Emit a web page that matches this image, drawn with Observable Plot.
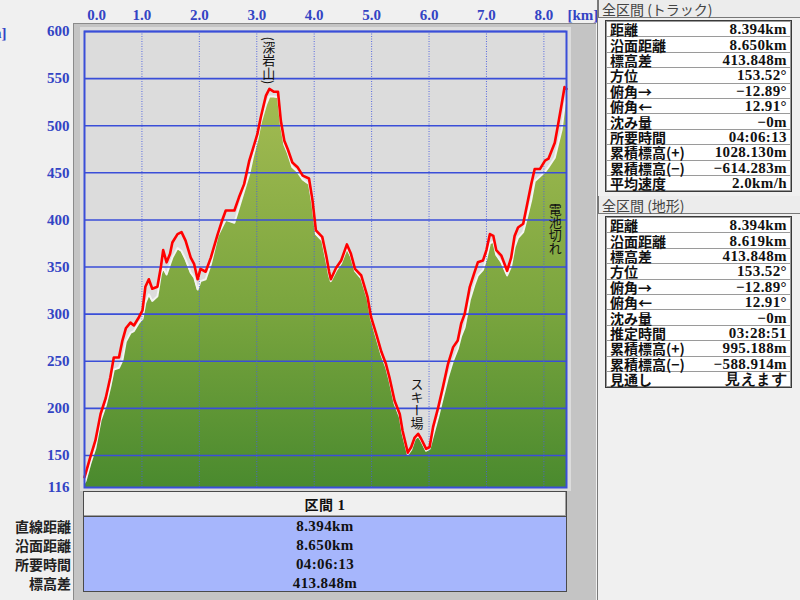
<!DOCTYPE html>
<html><head><meta charset="utf-8">
<script src="https://cdn.jsdelivr.net/npm/d3@7"></script>
<script src="https://cdn.jsdelivr.net/npm/@observablehq/plot@0.6"></script>
<style>
html,body{margin:0;padding:0;background:#f0f0f0;width:800px;height:600px;overflow:hidden;}
#wrap{position:relative;width:800px;height:600px;}
.abs{position:absolute;box-sizing:border-box;}
.jp{font-family:"Noto Sans CJK JP","Noto Sans",sans-serif;}
.num{font-family:"Liberation Serif","DejaVu Serif",serif;font-weight:bold;letter-spacing:0.4px;}
table.info{border-collapse:collapse;width:100%;background:#fff;}
table.info td{border:1px solid #9a9a9a;height:14.4px;padding:0 3px;font-size:14px;line-height:14px;color:#111;white-space:nowrap;}
table.info td.l{border-right:none;font-family:"Noto Sans CJK JP",sans-serif;font-weight:bold;}
table.info td.v{border-left:none;text-align:right;font-family:"Liberation Serif",serif;font-weight:bold;font-size:15px;letter-spacing:0.4px;}
.hdr{font-family:"Noto Sans CJK JP",sans-serif;font-size:14px;color:#444;background:#ececec;border:1px solid #777;border-top:none;padding-left:3px;padding-top:1px;line-height:16px;}
.secrow{font-size:15px;text-align:center;color:#111;height:19px;line-height:19px;}
.leftlab{font-family:"Noto Sans CJK JP",sans-serif;font-weight:bold;font-size:14px;color:#222;text-align:right;height:19px;line-height:19px;}
</style></head><body><div id="wrap">
<div class="abs" style="left:73px;top:23px;width:523px;height:577px;background:#c4c4c4;border-left:1px solid #8a8a8a;border-top:1px solid #8a8a8a;"></div>
<div class="abs" style="left:80px;top:27px;width:491px;height:464px;background:#dcdcdc;"></div>
</div>
<script>
// ---- data ----
const km      = [0.00,0.02,0.10,0.19,0.28,0.37,0.45,0.51,0.60,0.66,0.72,0.80,0.86,0.95,1.01,1.06,1.12,1.18,1.27,1.33,1.37,1.43,1.49,1.53,1.62,1.69,1.76,1.85,1.91,1.97,2.02,2.11,2.20,2.32,2.40,2.46,2.61,2.69,2.78,2.87,2.93,3.01,3.07,3.16,3.22,3.30,3.37,3.42,3.48,3.54,3.62,3.71,3.80,3.91,3.97,4.03,4.14,4.21,4.26,4.29,4.38,4.47,4.57,4.64,4.71,4.82,4.93,4.99,5.08,5.17,5.25,5.31,5.40,5.49,5.54,5.63,5.69,5.75,5.81,5.86,5.95,6.01,6.07,6.16,6.24,6.33,6.42,6.50,6.56,6.62,6.71,6.79,6.85,6.94,7.00,7.06,7.12,7.17,7.26,7.36,7.43,7.49,7.55,7.64,7.70,7.78,7.84,7.93,8.02,8.08,8.19,8.25,8.31,8.36,8.394];
const trackElev   = [127,131,148,166,194,211,233,254,254,272,285,291,288,297,304,329,337,327,329,350,368,355,364,376,385,387,378,360,353,337,348,345,360,385,400,410,410,424,438,463,475,491,509,532,539,536,536,505,484,475,461,456,447,444,421,389,382,362,345,337,349,357,374,364,348,341,318,297,279,260,247,233,208,194,176,153,159,169,173,168,157,159,180,201,222,247,265,272,290,300,329,344,355,357,368,385,383,368,362,346,360,383,392,396,414,438,454,454,463,465,482,502,523,541,539];
const terrainElev = [120,122,140,157,186,202,222,240,242,250,270,279,281,290,294,311,320,313,318,341,348,341,352,359,369,366,357,343,338,325,334,336,352,382,392,399,396,412,430,448,465,484,502,521,530,530,529,500,479,470,455,450,442,437,415,384,377,356,340,334,345,353,369,360,345,337,315,294,275,256,243,229,204,190,172,150,155,166,170,165,154,156,170,190,210,232,250,262,276,285,314,330,340,346,358,374,376,362,354,340,350,370,380,386,400,420,440,445,450,455,465,480,495,520,534];
const yTicks  = [116,150,200,250,300,350,400,450,500,550,600];
const gridYTicks = [150,200,250,300,350,400,450,500,550,600];
const xTicks  = [1,2,3,4,5,6,7,8];
const annLabels = ["(深岩山)","スキー場","電池切れ"];
const annKm     = [3.21,5.79,8.20];
const annElev   = [599,237,423];
const trackTitle = "全区間 (トラック)";
const trackLabels = ["距離","沿面距離","標高差","方位","俯角→","俯角←","沈み量","所要時間","累積標高(+)","累積標高(−)","平均速度"];
const trackValues = ["8.394km","8.650km","413.848m","153.52°","−12.89°","12.91°","−0m","04:06:13","1028.130m","−614.283m","2.0km/h"];
const terrTitle = "全区間 (地形)";
const terrLabels = ["距離","沿面距離","標高差","方位","俯角→","俯角←","沈み量","推定時間","累積標高(+)","累積標高(−)","見通し"];
const terrValues = ["8.394km","8.619km","413.848m","153.52°","−12.89°","12.91°","−0m","03:28:51","995.188m","−588.914m","見えます"];
const sectionTitle = "区間 1";
const sectionLabels = ["直線距離","沿面距離","所要時間","標高差"];
const sectionValues = ["8.394km","8.650km","04:06:13","413.848m"];

// ---- chart ----
const rows = km.map((k,i)=>({km:k, track:trackElev[i], terrain:terrainElev[i]}));
const anns = annLabels.map((t,i)=>({label:t, km:annKm[i], elev:annElev[i]}));
const BLUE = "#3a4ed8";
const AX = {color:"#3344c4", fontSize:15, fontWeight:"bold", fontFamily:"Liberation Serif, serif"};
const defs = () => {
  const d = d3.create("svg:defs");
  const g = d.append("linearGradient").attr("id","gg").attr("x1",0).attr("y1",0).attr("x2",0).attr("y2",1);
  g.append("stop").attr("offset","0%").attr("stop-color","#a3bb52");
  g.append("stop").attr("offset","55%").attr("stop-color","#7aa53e");
  g.append("stop").attr("offset","100%").attr("stop-color","#4a8a2e");
  return d.node();
};
const chart = Plot.plot({
  width: 800, height: 600,
  marginLeft: 84, marginRight: 234, marginTop: 31, marginBottom: 113,
  x: {domain:[0, 8.394]},
  y: {domain:[116, 600]},
  style: {background:"transparent", overflow:"visible"},
  marks: [
    defs,
    Plot.areaY(rows, {x:"km", y1:116, y2:"terrain", fill:"url(#gg)", curve:"linear"}),
    Plot.lineY(rows, {x:"km", y:"terrain", stroke:"#f4f4f4", strokeWidth:2, dy:-1}),
    Plot.gridY({ticks:gridYTicks, stroke:BLUE, strokeOpacity:1, strokeWidth:1.6}),
    Plot.gridX({ticks:xTicks, stroke:"#4a5ee0", strokeOpacity:0.9, strokeWidth:1, strokeDasharray:"1,1.5"}),
    Plot.lineY(rows, {x:"km", y:"track", stroke:"#ff0000", strokeWidth:2.6}),
    Plot.frame({stroke:BLUE, strokeWidth:2}),
    Plot.axisY({ticks:yTicks, tickSize:0, tickPadding:15, label:null, ...AX}),
    Plot.axisX({anchor:"top", ticks:xTicks, tickSize:0, tickPadding:12, tickFormat:d3.format(".1f"), label:null, ...AX}),
    Plot.axisX({anchor:"top", ticks:[0], tickSize:0, tickPadding:12, tickFormat:d3.format(".1f"), label:null, dx:12, ...AX}),
    Plot.text(["[km]"], {frameAnchor:"top-right", textAnchor:"start", lineAnchor:"bottom", dx:1, dy:-12, fill:"#3344c4", fontSize:15, fontWeight:"bold", fontFamily:"Liberation Serif, serif"}),
    Plot.text(["[m]"], {frameAnchor:"top-left", textAnchor:"end", lineAnchor:"middle", dx:-78, dy:2, fill:"#3344c4", fontSize:15, fontWeight:"bold", fontFamily:"Liberation Serif, serif"}),
    Plot.text(anns, {x:"km", y:"elev", text:"label", textAnchor:"start", fontSize:13, fill:"#111", fontFamily:"Noto Sans CJK JP, sans-serif", className:"vtext"})
  ]
});
d3.select(chart).selectAll(".vtext text")
  .attr("dy", null)
  .style("writing-mode", "vertical-rl")
  .style("text-orientation", "mixed");
chart.style.position = "absolute"; chart.style.left = "0px"; chart.style.top = "0px";
const wrap = document.getElementById("wrap");
wrap.appendChild(chart);

// ---- bottom section table ----
const sh = document.createElement("div");
sh.className = "abs num";
sh.style.cssText = "left:83px;top:491px;width:484px;height:26px;background:#f0f0f0;border:1px solid #4a4a4a;box-shadow:inset -1px -1px 0 #a0a0a0;font-size:15px;text-align:center;line-height:24px;color:#111;";
sh.innerHTML = `<span class="jp" style="font-weight:bold;font-size:14px">${sectionTitle.split(" ")[0]}</span> ${sectionTitle.split(" ")[1]}`;
wrap.appendChild(sh);
const sb = document.createElement("div");
sb.className = "abs num";
sb.style.cssText = "left:83px;top:516px;width:484px;height:76px;background:#a6b6fc;border:1px solid #4a4a4a;";
sb.innerHTML = sectionValues.map(v=>`<div class="secrow">${v}</div>`).join("");
wrap.appendChild(sb);
const sl = document.createElement("div");
sl.className = "abs";
sl.style.cssText = "left:0px;top:517px;width:71px;";
sl.innerHTML = sectionLabels.map(v=>`<div class="leftlab">${v}</div>`).join("");
wrap.appendChild(sl);

// ---- right panel ----
const rp = document.createElement("div");
rp.className = "abs";
rp.style.cssText = "left:597px;top:0px;width:203px;height:600px;border-left:1px solid #7a7a7a;background:#f0f0f0;";
function block(title, labels, values, top) {
  return `<div class="abs hdr" style="left:0;top:${top}px;width:203px;height:18px;">${title}</div>
  <div class="abs" style="left:7px;top:${top+20}px;width:187px;border:1px solid #3a3a3a;">
  <table class="info">${labels.map((l,i)=>`<tr><td class="l">${l}</td><td class="v">${values[i]}</td></tr>`).join("")}</table></div>`;
}
rp.innerHTML = block(trackTitle, trackLabels, trackValues, 0) + block(terrTitle, terrLabels, terrValues, 196);
wrap.appendChild(rp);
</script></body></html>
